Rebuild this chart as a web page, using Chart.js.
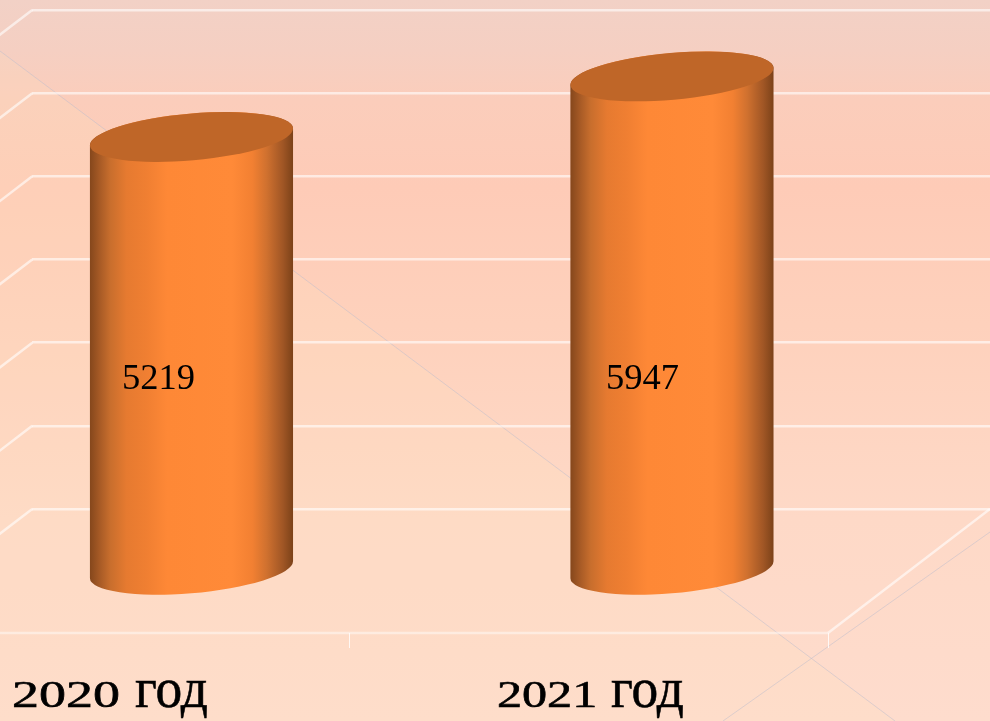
<!DOCTYPE html>
<html>
<head>
<meta charset="utf-8">
<style>
    html, body { margin: 0; padding: 0; background: #fedccb; }
    canvas { display: block; }
</style>
<script src="https://cdn.jsdelivr.net/npm/chart.js@4"></script>
</head>
<body>
<canvas id="chart" width="990" height="721"></canvas>
<script>
const categories = ['2020 год', '2021 год'];
const values = [5219, 5947];
const axisMin = 0;
const axisMax = 6000;
const axisStep = 1000;

// сдвиг передней кромки пола относительно задней стенки
const depthX = -162;
const depthY = 124;
// столбцы стоят посередине глубины, с небольшой поправкой на перспективу
const barShiftX = [-80.2, -78.6];

function drawBackground(ctx, w, h) {
    const bg = ctx.createLinearGradient(0, 0, 0, h);
    bg.addColorStop(0, '#f2d1c6');
    bg.addColorStop(0.07, '#f5cfc2');
    bg.addColorStop(0.14, '#fbcdbb');
    bg.addColorStop(0.26, '#fecbb7');
    bg.addColorStop(0.45, '#fed1bc');
    bg.addColorStop(0.72, '#fed9c7');
    bg.addColorStop(1, '#fedccd');
    ctx.fillStyle = bg;
    ctx.fillRect(0, 0, w, h);

    // светлый треугольник слайда под диагональю
    ctx.fillStyle = 'rgba(255, 226, 190, 0.18)';
    ctx.beginPath();
    ctx.moveTo(0, 51);
    ctx.lineTo(895, 721);
    ctx.lineTo(0, 721);
    ctx.closePath();
    ctx.fill();

    ctx.strokeStyle = 'rgba(190, 190, 205, 0.5)';
    ctx.lineWidth = 1;
    ctx.beginPath();
    ctx.moveTo(0, 51);
    ctx.lineTo(895, 721);
    ctx.moveTo(723, 721);
    ctx.lineTo(990, 532);
    ctx.stroke();
}

function drawCylinder(ctx, cx, topY, baseY, width) {
    const a = width / 2 + 0.4;
    const b = 23.4;
    const tilt = -5 * Math.PI / 180;
    const t0 = Math.atan(-(b / a) * Math.tan(tilt));
    const left = cx - width / 2;

    const side = ctx.createLinearGradient(left, 0, left + width, 0);
    side.addColorStop(0, '#85471c');
    side.addColorStop(0.05, '#a85b26');
    side.addColorStop(0.1, '#c86e2d');
    side.addColorStop(0.18, '#e67a30');
    side.addColorStop(0.28, '#f07f32');
    side.addColorStop(0.38, '#fe8836');
    side.addColorStop(0.7, '#ff8a38');
    side.addColorStop(0.8, '#f28032');
    side.addColorStop(0.87, '#d0712f');
    side.addColorStop(0.95, '#a05625');
    side.addColorStop(1, '#7c4219');

    ctx.beginPath();
    ctx.ellipse(cx, baseY, a, b, tilt, t0, t0 + Math.PI, false);
    ctx.ellipse(cx, topY, a, b, tilt, t0 + Math.PI, t0 + 2 * Math.PI, false);
    ctx.closePath();
    ctx.fillStyle = side;
    ctx.fill();

    ctx.beginPath();
    ctx.ellipse(cx, topY, a, b, tilt, 0, 2 * Math.PI);
    ctx.fillStyle = '#bf6628';
    ctx.fill();
}

function drawCategoryPart(ctx, text, x, y, scaleX, font) {
    ctx.save();
    ctx.translate(x, y);
    ctx.scale(scaleX, 1);
    ctx.font = font;
    ctx.strokeStyle = '#000';
    ctx.lineWidth = 0.6;
    ctx.strokeText(text, 0, 0);
    ctx.fillText(text, 0, 0);
    ctx.restore();
}

const wallPlugin = {
    id: 'wall',
    beforeDraw: function (chart) {
        drawBackground(chart.ctx, chart.width, chart.height);
    },
    beforeDatasetsDraw: function (chart) {
        const ctx = chart.ctx;
        const area = chart.chartArea;
        const yScale = chart.scales.y;
        const base = yScale.getPixelForValue(axisMin);
        const frontY = base + depthY;
        const frontLeft = area.left + depthX;
        const frontRight = area.right + depthX;

        ctx.save();
        // боковая стенка
        ctx.strokeStyle = 'rgba(255, 255, 255, 0.6)';
        ctx.lineWidth = 2.5;
        yScale.ticks.forEach(function (tick) {
            const y = yScale.getPixelForValue(tick.value);
            ctx.beginPath();
            ctx.moveTo(area.left, y);
            ctx.lineTo(area.left + depthX, y + depthY);
            ctx.stroke();
        });

        // пол
        ctx.strokeStyle = 'rgba(255, 255, 255, 0.45)';
        ctx.beginPath();
        ctx.moveTo(frontLeft, frontY);
        ctx.lineTo(frontRight, frontY);
        ctx.stroke();
        ctx.strokeStyle = 'rgba(255, 255, 255, 0.6)';
        ctx.beginPath();
        ctx.moveTo(frontRight, frontY);
        ctx.lineTo(area.right, base);
        ctx.stroke();

        // засечки оси категорий
        ctx.strokeStyle = 'rgba(255, 255, 255, 0.8)';
        ctx.lineWidth = 1;
        for (let i = 0; i <= categories.length; i++) {
            const x = Math.round(frontLeft + (frontRight - frontLeft) * i / categories.length) + 0.5;
            ctx.beginPath();
            ctx.moveTo(x, frontY);
            ctx.lineTo(x, frontY + 15);
            ctx.stroke();
        }
        ctx.restore();
    },
    afterDatasetsDraw: function (chart) {
        const ctx = chart.ctx;
        const bars = chart.getDatasetMeta(0).data;

        bars.forEach(function (bar, i) {
            const cx = bar.x + barShiftX[i];
            const topY = bar.y + depthY / 2;
            const baseY = bar.base + depthY / 2;
            drawCylinder(ctx, cx, topY, baseY, bar.width);

            // подпись значения
            ctx.save();
            ctx.fillStyle = '#000';
            ctx.font = '36.5px "Liberation Serif"';
            ctx.textAlign = 'center';
            ctx.textBaseline = 'middle';
            ctx.fillText(String(values[i]), cx + (i === 0 ? -33 : -29.5), 379);
            ctx.restore();

            // подпись категории: старостильные цифры собираем из двух частей
            const parts = categories[i].split(' ');
            const labelX = bar.x + depthX;
            ctx.save();
            ctx.fillStyle = '#000';
            ctx.textBaseline = 'alphabetic';
            ctx.textAlign = 'left';
            drawCategoryPart(ctx, parts[0], labelX + (i === 0 ? -97.7 : -91.6), 707, i === 0 ? 1.42 : 1.32, '38px "Liberation Serif"');
            drawCategoryPart(ctx, parts[1], labelX + (i === 0 ? 25.3 : 22.4), 707, 0.92, '58px "Liberation Serif"');
            ctx.restore();
        });
    }
};

new Chart(document.getElementById('chart'), {
    type: 'bar',
    data: {
        labels: categories,
        datasets: [{
            data: values,
            backgroundColor: 'rgba(0, 0, 0, 0)',
            barPercentage: 0.424,
            categoryPercentage: 1
        }]
    },
    options: {
        responsive: false,
        animation: false,
        layout: { padding: { left: 32.25, top: 10, right: 0, bottom: 212 } },
        plugins: {
            legend: { display: false },
            tooltip: { enabled: false }
        },
        scales: {
            x: { display: false },
            y: {
                min: axisMin,
                max: axisMax,
                ticks: { display: false, stepSize: axisStep },
                border: { display: false },
                grid: { color: 'rgba(255, 255, 255, 0.6)', lineWidth: 2.5, drawTicks: false }
            }
        }
    },
    plugins: [wallPlugin]
});
</script>
</body>
</html>
